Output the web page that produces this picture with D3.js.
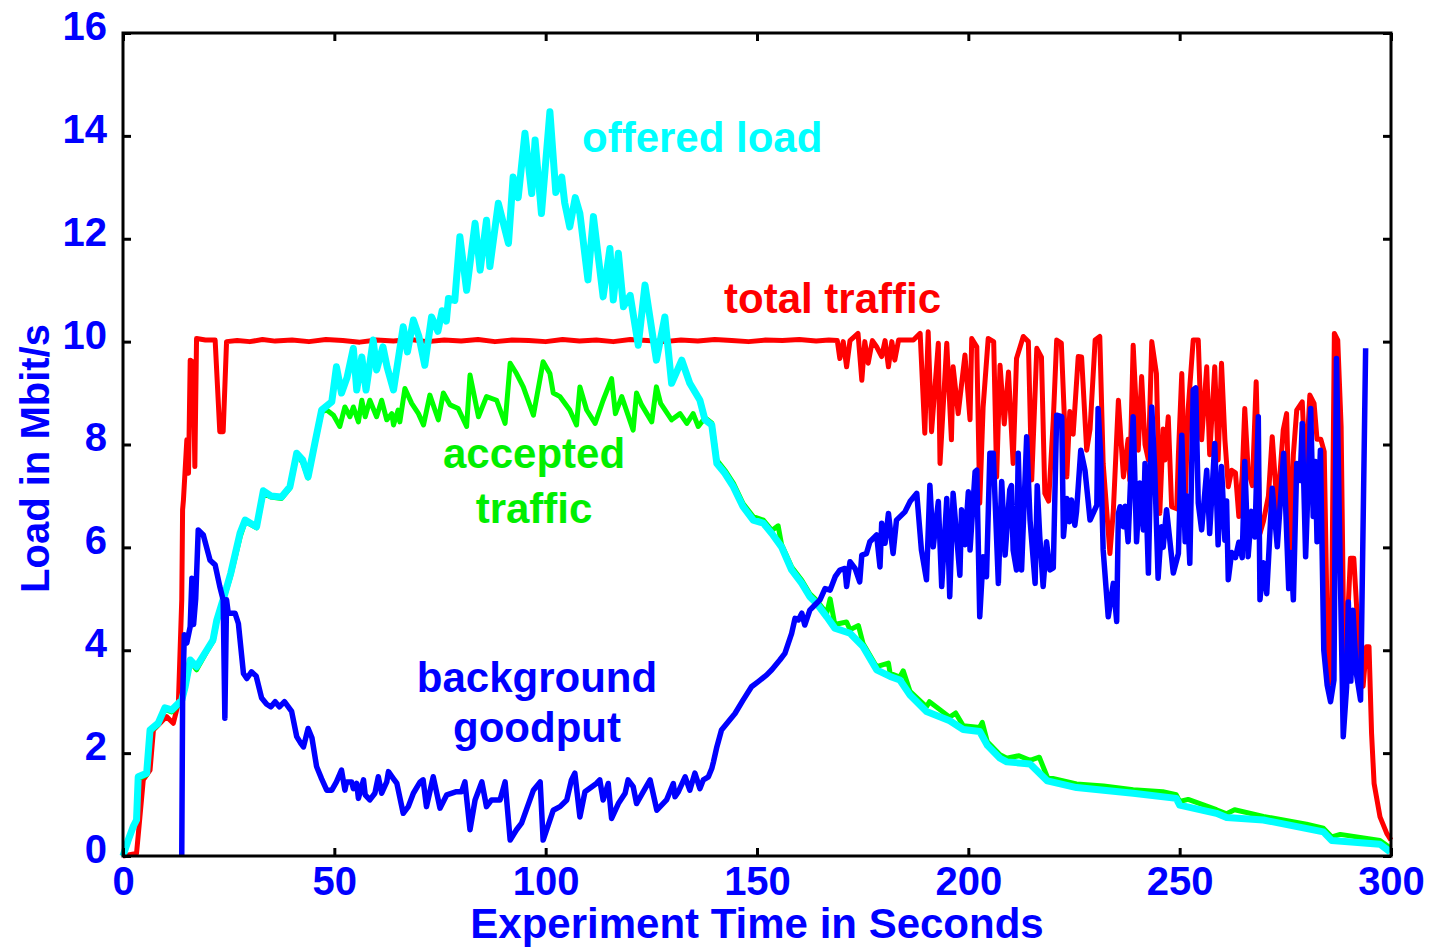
<!DOCTYPE html>
<html>
<head>
<meta charset="utf-8">
<script src="https://cdn.jsdelivr.net/npm/d3@7"></script>
<style>
  html, body { margin: 0; padding: 0; background: #fff; }
  svg { display: block; }
  text { font-family: "Liberation Sans", Arial, Helvetica, sans-serif; font-weight: bold; }
</style>
</head>
<body>
<svg id="chart" width="1437" height="949"></svg>
<script>
// ---------------- DATA ----------------
const xTicks = [0, 50, 100, 150, 200, 250, 300];
const yTicks = [0, 2, 4, 6, 8, 10, 12, 14, 16];

const xTitle = "Experiment Time in Seconds";
const yTitle = "Load in Mbit/s";

// offered load [seconds, Mbit/s]
const offeredLoad = [
  [0,0],[1.2,0.3],[2.4,0.57],[3.2,0.7],[3.6,1.54],[5.6,1.61],[6.4,2.45],[8.3,2.58],[9.9,2.88],[11.5,2.84],
  [13.9,3.03],[14.7,3.29],[15.9,3.81],[17.4,3.68],[19.8,4.0],[21.3,4.2],[22.2,4.59],[24.1,5.1],[25.5,5.5],
  [27.7,6.28],[28.9,6.53],[31.6,6.4],[33.2,7.1],[35,7.0],[37.5,6.98],[39.5,7.18],[41.1,7.83],[42.5,7.7],
  [43.8,7.37],[45.4,8.03],[47,8.67],[49.4,8.83],[50.5,9.51],[51.7,9.0],[53,9.3],[54.5,9.87],[55.3,9.06],
  [56.5,9.7],[57.5,9.06],[59.2,10.03],[60,9.45],[61.5,9.9],[62.5,9.5],[64,9.06],[66.3,10.29],[67.3,9.8],
  [68.7,10.42],[70,10.1],[71.4,9.54],[73,10.48],[74.5,10.2],[75.5,10.6],[76.5,10.4],[77,10.84],[78.5,10.8],
  [79.7,12.04],[81.3,11.0],[83.3,12.3],[84.5,11.39],[86,12.36],[86.8,11.46],[88.8,12.69],[90,12.3],
  [91.2,11.91],[92.3,13.2],[93.5,12.8],[95.1,14.05],[96.7,12.88],[97.5,13.92],[99,12.49],[101,14.47],
  [102.4,12.9],[103.8,13.2],[104.5,12.7],[105.7,12.23],[107,12.8],[108.1,12.49],[110,11.2],[111.3,12.43],
  [113.6,10.87],[115.2,11.81],[116,10.81],[117.2,11.72],[118.4,10.68],[120,10.9],[121.9,9.93],[123.5,11.1],
  [126.2,9.64],[128.2,10.48],[129.8,9.19],[132.2,9.64],[134.1,9.19],[136.5,8.86],[137.7,8.48],[139.3,8.38],
  [140.5,7.63],[142.4,7.44],[144.4,7.18],[146.7,6.79],[149.1,6.53],[151.5,6.47],[153.5,6.27],[155.8,6.01],
  [158.2,5.56],[160.6,5.3],[162.5,5.04],[164.1,4.91],[166.5,4.65],[168.4,4.43],[172,4.33],[175.1,4.07],
  [178.3,3.62],[181.5,3.49],[183.8,3.42],[186.2,3.13],[190.1,2.81],[195.6,2.63],[198.8,2.46],[202.7,2.42],
  [204.5,2.15],[207.5,1.9],[209.1,1.83],[214.6,1.79],[218.7,1.46],[225.6,1.33],[239,1.22],[249.2,1.12],
  [250,0.99],[258.7,0.83],[261.1,0.75],[269.8,0.70],[284,0.47],[286,0.3],[297.4,0.23],[299.8,0.08]
];

// accepted traffic [seconds, Mbit/s]
const acceptedTraffic = [
  [0,0],[1.2,0.28],[2.4,0.55],[3.2,0.68],[3.6,1.5],[5.6,1.58],[6.4,2.42],[8.3,2.55],[9.9,2.85],[11.5,2.8],
  [13.9,3.0],[14.7,3.26],[15.9,3.78],[17.4,3.62],[19.8,3.97],[21.3,4.17],[22.2,4.55],[24.1,5.07],[25.5,5.45],
  [27.7,6.2],[28.9,6.5],[31.6,6.38],[33.2,7.05],[35,6.98],[37.5,6.95],[39.5,7.15],[41.1,7.8],[42.5,7.65],
  [43.8,7.35],[45.4,8.0],[47,8.64],[48.2,8.67],[49.8,8.57],[51.3,8.35],[52.5,8.73],[53.7,8.54],[54.5,8.73],
  [55.7,8.44],[56.5,8.86],[57.3,8.54],[58.4,8.86],[60,8.54],[61.2,8.86],[62.4,8.48],[63.6,8.6],[64,8.38],
  [65.1,8.67],[65.5,8.44],[66.7,9.09],[68.3,8.8],[69.9,8.6],[71.1,8.38],[72.6,8.96],[74.6,8.48],[75.8,9.0],
  [77.4,8.77],[79.3,8.7],[81.3,8.35],[82.1,9.35],[84.1,8.54],[86,8.93],[88.4,8.86],[90.4,8.41],[91.6,9.58],
  [93.1,9.38],[94.7,9.12],[97.1,8.57],[99.4,9.61],[101,9.38],[101.8,9.0],[103.4,8.93],[105.7,8.67],
  [107.3,8.38],[108.1,9.12],[109.7,8.67],[111.7,8.41],[113.6,8.86],[115.6,9.28],[116.5,8.6],[118,8.93],
  [120.7,8.28],[121.5,9.0],[122.7,8.77],[125.1,8.44],[126.2,9.12],[127.2,8.8],[129.8,8.48],[131.8,8.6],
  [133.4,8.41],[134.9,8.6],[136.1,8.35],[137.7,8.52],[139.3,8.42],[140.5,7.7],[142.4,7.5],[144.4,7.25],
  [146.7,6.85],[149.1,6.6],[151.5,6.53],[153.5,6.33],[155,6.42],[155.8,6.06],[158.2,5.62],[160.6,5.36],
  [162.5,5.1],[164.1,4.97],[166.5,4.72],[167.3,5.0],[168.4,4.5],[171.2,4.55],[172,4.4],[174,4.48],
  [175.1,4.13],[178.3,3.68],[181.1,3.75],[181.5,3.55],[183.8,3.48],[184.6,3.6],[186.2,3.2],[190.1,2.9],
  [190.8,3.0],[195.6,2.7],[197,2.78],[198.8,2.53],[202.7,2.5],[203.3,2.6],[204.5,2.22],[207.5,1.97],
  [209.1,1.9],[212,1.95],[214.6,1.86],[216.8,1.92],[218.7,1.53],[225.6,1.4],[232,1.36],[239,1.29],
  [246,1.25],[249.2,1.19],[250,1.06],[252,1.1],[258.7,0.9],[261.1,0.82],[263,0.9],[269.8,0.77],
  [280,0.62],[284,0.54],[286,0.37],[288,0.42],[297.4,0.3],[299.8,0.16]
];

// total traffic [seconds, Mbit/s]
const totalTraffic = [
  [0,0],[3.2,0.05],[4,0.76],[4.8,1.48],[6.4,1.67],[7.2,2.45],[10.3,2.71],[11.9,2.58],[13.1,2.97],
  [13.9,4.98],[14.1,6.73],[14.3,6.92],[15.1,8.09],[15.5,7.44],[15.9,9.64],[16.6,9.6],[17,7.57],[17.4,10.06],
  [19.5,10.03],[21.8,10.03],[22.9,8.25],[23.7,8.25],[24.5,10.0],[27,10.02],[30,10.0],[33,10.04],[36,10.01],
  [40,10.03],[44,10.0],[48,10.04],[52,10.02],[56,9.99],[60,10.03],[64,10.01],[68,10.04],[72,10.0],
  [76,10.03],[80,10.01],[84,10.04],[88,10.0],[92,10.03],[96,10.02],[100,10.0],[104,10.04],[108,10.01],
  [112,10.03],[116,10.0],[120,10.04],[124,10.02],[128,10.0],[132,10.03],[136,10.01],[140,10.04],
  [144,10.02],[148,10.0],[152,10.03],[156,10.02],[160,10.04],[164,10.01],[167,10.03],[169,10.02],
  [169.6,9.67],[170.4,10.0],[171.2,9.51],[172,10.02],[173.9,10.16],[174.8,9.25],[175.5,10.0],[176.3,9.58],
  [177.3,10.02],[178.3,9.9],[179.5,9.71],[180.3,10.02],[181.1,9.51],[181.9,10.0],[182.6,9.64],[183.5,10.03],
  [187,10.03],[188.6,10.16],[189.7,8.22],[190.5,10.19],[191.3,8.25],[192.9,9.97],[193.3,7.63],[194.9,9.97],
  [196,8.09],[196.4,9.51],[197.6,8.6],[199.2,9.74],[200.4,8.48],[200.8,10.06],[202,9.9],[202.7,6.86],
  [203.5,8.73],[204.7,10.06],[206,10.0],[206.7,7.37],[207.5,9.54],[208.5,8.4],[209.5,9.41],[210.6,7.63],
  [211.4,9.67],[213,10.1],[214.2,10.0],[215,7.31],[216.2,9.87],[217.3,9.7],[218.1,7.05],[219,6.9],
  [220.1,8.48],[220.9,10.03],[222,9.97],[223.3,7.37],[224,8.64],[224.8,8.2],[226,9.71],[226.8,9.7],
  [228,7.89],[228.8,8.3],[230,10.03],[231.1,10.1],[231.9,7.63],[233.5,5.88],[234.3,6.7],[235.5,8.86],
  [236.7,7.37],[237.8,8.1],[238.2,7.3],[239,9.93],[240.2,7.89],[241,9.32],[241.8,8.0],[242.6,7.7],
  [243.4,10.0],[244.5,9.38],[245.3,6.66],[246.1,8.3],[246.5,7.7],[247.3,8.54],[248.1,6.79],[249.3,6.75],
  [249.7,7.8],[250.5,9.38],[251.3,6.89],[252,8.67],[253.2,10.03],[254.4,10.03],[255.2,8.09],[256.4,9.51],
  [257.1,7.8],[258.3,9.51],[259.1,7.7],[259.9,9.58],[260.7,8.1],[261.5,7.18],[262.3,7.5],[263.2,7.45],
  [264,6.6],[264.8,7.4],[265.4,8.7],[266.2,7.5],[267.2,7.2],[268.1,9.22],[269,6.27],[269.8,6.5],
  [271,7.0],[271.9,8.15],[273.1,6.73],[274.5,8.28],[275.3,8.6],[276.1,5.95],[276.9,7.8],[277.7,8.67],
  [279,8.83],[279.8,7.4],[280.8,8.96],[281.8,8.8],[282.5,8.1],[283.4,8.1],[284.2,7.86],[285,4.1],
  [285.8,3.36],[286.6,10.16],[287.4,10.03],[288.2,8.35],[289,3.0],[289.9,4.9],[290.4,5.79],[291.2,5.79],
  [291.8,4.94],[292.6,3.68],[293.4,3.3],[294.2,4.07],[294.8,4.07],[295.4,2.39],[296,1.41],[297.4,0.76],
  [299,0.44],[300,0.31]
];

// background goodput [seconds, Mbit/s]
const backgroundGoodput = [
  [13.9,0],[14.1,3.0],[14.5,4.3],[15.1,4.14],[15.9,4.46],[16.3,5.4],[16.7,4.5],[17.2,5.0],[17.8,6.34],
  [19,6.24],[20.6,5.75],[21.8,5.66],[22.9,5.24],[23.7,4.98],[24.1,2.68],[24.5,4.98],[24.9,4.72],[26.5,4.72],
  [27.3,4.52],[28.5,3.55],[29.3,3.45],[30.4,3.58],[31.5,3.5],[32.8,3.07],[34,2.95],[35,2.9],[36,3.0],
  [37,2.9],[38.2,3.0],[39.9,2.81],[41.1,2.32],[42,2.2],[42.7,2.12],[43.8,2.48],[44.7,2.3],[45.8,1.74],
  [47,1.5],[48.2,1.28],[49.4,1.28],[50.5,1.44],[51.7,1.67],[52.5,1.28],[52.9,1.44],[54.1,1.44],[54.5,1.31],
  [55.3,1.41],[55.7,1.12],[56.9,1.48],[57.3,1.19],[58.4,1.09],[59.6,1.22],[60.4,1.54],[61.2,1.22],
  [62.4,1.44],[62.8,1.64],[64,1.5],[64.8,1.41],[66.3,0.83],[67.5,0.96],[68.7,1.22],[70.3,1.44],[71,1.48],
  [71.8,0.96],[73.4,1.54],[75,0.93],[76.6,1.19],[78.9,1.25],[80.1,1.25],[80.9,1.44],[82.1,0.51],[83.3,1.09],
  [84.9,1.44],[86,0.96],[87.2,1.09],[89.2,1.09],[90.4,1.44],[91.6,0.31],[93.1,0.51],[94.3,0.64],[97.1,1.28],
  [98.7,1.44],[99.4,0.31],[101.8,0.89],[103.4,0.96],[105,1.09],[106.1,1.48],[106.9,1.61],[108.1,0.76],
  [109.3,1.25],[112,1.41],[112.8,1.48],[113.6,1.09],[114.8,1.41],[115.6,0.73],[117.2,1.02],[118.8,1.22],
  [119.5,1.48],[120.7,1.35],[121.5,1.02],[123.1,1.25],[124.7,1.48],[126.3,0.89],[128.6,1.09],[130.2,1.41],
  [130.6,1.15],[131.4,1.25],[133,1.54],[134.1,1.28],[135.3,1.61],[136.5,1.31],[137.3,1.48],[138.5,1.54],
  [139.3,1.7],[139.7,1.83],[140.5,2.12],[141.6,2.45],[143.2,2.61],[144.8,2.77],[146.7,3.03],[148.7,3.29],
  [150.3,3.39],[152.3,3.52],[153.5,3.62],[155.4,3.81],[156.6,3.94],[158.2,4.33],[159,4.62],[159.8,4.59],
  [160.6,4.72],[161.3,4.49],[162.5,4.78],[163.7,4.88],[164.9,4.98],[166.1,5.2],[167.3,5.17],[168.5,5.43],
  [169.6,5.56],[170.8,5.59],[171.2,5.24],[172,5.72],[173.2,5.59],[174.3,5.33],[174.8,5.85],[175.9,5.88],
  [176.7,6.11],[178.3,6.24],[179.1,5.62],[179.5,6.47],[180.3,6.08],[181.1,6.66],[182.2,5.88],[183,6.53],
  [185,6.69],[186.2,6.89],[187.8,7.05],[188.9,5.95],[190.1,5.37],[190.9,7.21],[191.7,6.01],[192.9,6.89],
  [193.7,5.24],[194.9,6.95],[195.6,5.04],[196.4,7.05],[198,5.46],[198.4,6.73],[199.2,6.05],[200,7.08],
  [200.4,5.95],[201.6,7.47],[202,7.5],[202.7,4.65],[203.5,5.82],[204.3,5.43],[205.1,7.83],[205.9,7.83],
  [207.1,5.3],[207.9,7.28],[208.7,5.85],[209.8,7.12],[210.2,7.2],[210.6,5.95],[211.4,5.56],[211.8,7.83],
  [212.6,5.56],[213.8,8.15],[214.6,6.53],[215.8,5.3],[216.3,7.2],[216.9,6.21],[217.7,5.24],[218.5,6.11],
  [219.3,5.56],[220.1,5.6],[220.9,8.57],[222.1,8.54],[222.5,6.21],[223.3,6.95],[223.9,6.5],[224.4,6.92],
  [225.2,6.43],[225.6,6.7],[226.6,7.89],[227.6,7.5],[228.8,6.53],[230.4,6.82],[230.7,8.7],[231.3,7.8],
  [231.9,5.95],[233.1,4.65],[234.3,5.3],[235.1,4.56],[235.5,6.66],[235.9,6.79],[236.7,6.4],[237.1,6.8],
  [237.8,6.11],[239,8.54],[239.8,6.11],[240.6,7.25],[241.4,6.34],[241.8,7.63],[242.6,5.5],[243.4,8.73],
  [244.1,7.5],[244.9,5.4],[245.7,6.4],[246.1,6.0],[246.9,6.73],[248.5,5.5],[249.7,5.88],[250.5,8.18],
  [251.3,6.11],[251.7,7.0],[252.4,5.69],[253.2,9.06],[253.8,9.1],[254.4,6.86],[255.2,6.34],[256.4,7.5],
  [257.1,6.27],[258.3,8.02],[259.1,6.05],[259.9,7.57],[260.7,6.14],[261.1,6.9],[261.5,5.37],[262.3,5.9],
  [263.2,5.8],[264,6.1],[264.8,5.8],[265.4,7.67],[266.2,5.82],[267,6.7],[267.8,6.2],[268.6,8.54],
  [269,4.98],[269.8,5.7],[270.6,5.1],[271.9,7.15],[273.1,6.01],[274.6,7.83],[275.8,5.2],[276.3,5.9],
  [276.9,4.98],[277.7,7.63],[278.5,7.3],[279,8.41],[279.8,5.82],[281,8.7],[281.6,6.6],[282.1,7.67],
  [282.5,6.11],[283.3,7.89],[284.1,4.0],[284.9,3.32],[285.7,3.0],[286.5,3.42],[287.1,9.67],[288.7,2.32],
  [289.5,3.29],[289.9,4.94],[290.5,3.4],[291,4.78],[291.8,3.55],[292.8,3.03],[294,9.87]
];

const seriesList = [
  { name: "total traffic", data: totalTraffic, color: "#ff0000", width: 5 },
  { name: "accepted traffic", data: acceptedTraffic, color: "#00ff00", width: 5 },
  { name: "offered load", data: offeredLoad, color: "#00ffff", width: 7 },
  { name: "background goodput", data: backgroundGoodput, color: "#0000ff", width: 5.5 }
];

const annotations = [
  { lines: ["offered load"], x: 582, y: 151.5, gap: 0, anchor: "start", color: "#00ffff" },
  { lines: ["total traffic"], x: 724, y: 313, gap: 0, anchor: "start", color: "#ff0000" },
  { lines: ["accepted", "traffic"], x: 534, y: 468, gap: 55, anchor: "middle", color: "#00ee00" },
  { lines: ["background", "goodput"], x: 537, y: 692, gap: 50, anchor: "middle", color: "#0000ff" }
];

// ---------------- LAYOUT ----------------
const svg = d3.select("#chart");
const L = 123, R = 1391, T = 33, B = 856;

const x = d3.scaleLinear().domain([0, 300]).range([L, R]);
const y = d3.scaleLinear().domain([0, 16]).range([B, T]);

const axisColor = "#000";
const labelColor = "#0000ff";

// lines
const line = d3.line().x(d => x(d[0])).y(d => y(d[1]));
const gLines = svg.append("g");
seriesList.forEach(s => {
  gLines.append("path")
    .datum(s.data)
    .attr("d", line)
    .attr("fill", "none")
    .attr("stroke", s.color)
    .attr("stroke-width", s.width)
    .attr("stroke-linejoin", "round")
    .attr("stroke-linecap", "butt");
});

// axes (inward ticks on all four sides)
function styleAxis(g) {
  g.select(".domain").remove();
  g.selectAll(".tick line").attr("stroke", axisColor).attr("stroke-width", 3);
  g.selectAll(".tick text")
    .attr("fill", labelColor)
    .style("font-size", "40px")
    .style("font-family", "'Liberation Sans', Arial, sans-serif")
    .style("font-weight", "bold");
}

svg.append("g").attr("transform", `translate(0,${B})`)
  .call(d3.axisBottom(x).tickValues(xTicks).tickSizeInner(-8).tickSizeOuter(0).tickPadding(11))
  .call(styleAxis);
svg.append("g").attr("transform", `translate(0,${T})`)
  .call(d3.axisTop(x).tickValues(xTicks).tickSizeInner(-8).tickSizeOuter(0).tickFormat(""))
  .call(styleAxis);
const gl = svg.append("g").attr("transform", `translate(${L},0)`)
  .call(d3.axisLeft(y).tickValues(yTicks).tickSizeInner(-8).tickSizeOuter(0).tickPadding(16))
  .call(styleAxis);
gl.selectAll(".tick text").attr("dy", "0.16em");
svg.append("g").attr("transform", `translate(${R},0)`)
  .call(d3.axisRight(y).tickValues(yTicks).tickSizeInner(-8).tickSizeOuter(0).tickFormat(""))
  .call(styleAxis);

// frame
svg.append("rect")
  .attr("x", L).attr("y", T)
  .attr("width", R - L).attr("height", B - T)
  .attr("fill", "none").attr("stroke", axisColor).attr("stroke-width", 3);

// axis titles
svg.append("text")
  .attr("x", (L + R) / 2).attr("y", 938)
  .attr("text-anchor", "middle")
  .attr("fill", labelColor)
  .style("font-size", "42px")
  .text(xTitle);

svg.append("text")
  .attr("transform", `translate(49,${(T + B) / 2 + 14}) rotate(-90)`)
  .attr("text-anchor", "middle")
  .attr("fill", labelColor)
  .style("font-size", "40px")
  .text(yTitle);

// inline labels
annotations.forEach(a => {
  a.lines.forEach((ln, i) => {
    svg.append("text")
      .attr("x", a.x).attr("y", a.y + i * a.gap)
      .attr("text-anchor", a.anchor)
      .attr("fill", a.color)
      .style("font-size", "42px")
      .text(ln);
  });
});
</script>
</body>
</html>
